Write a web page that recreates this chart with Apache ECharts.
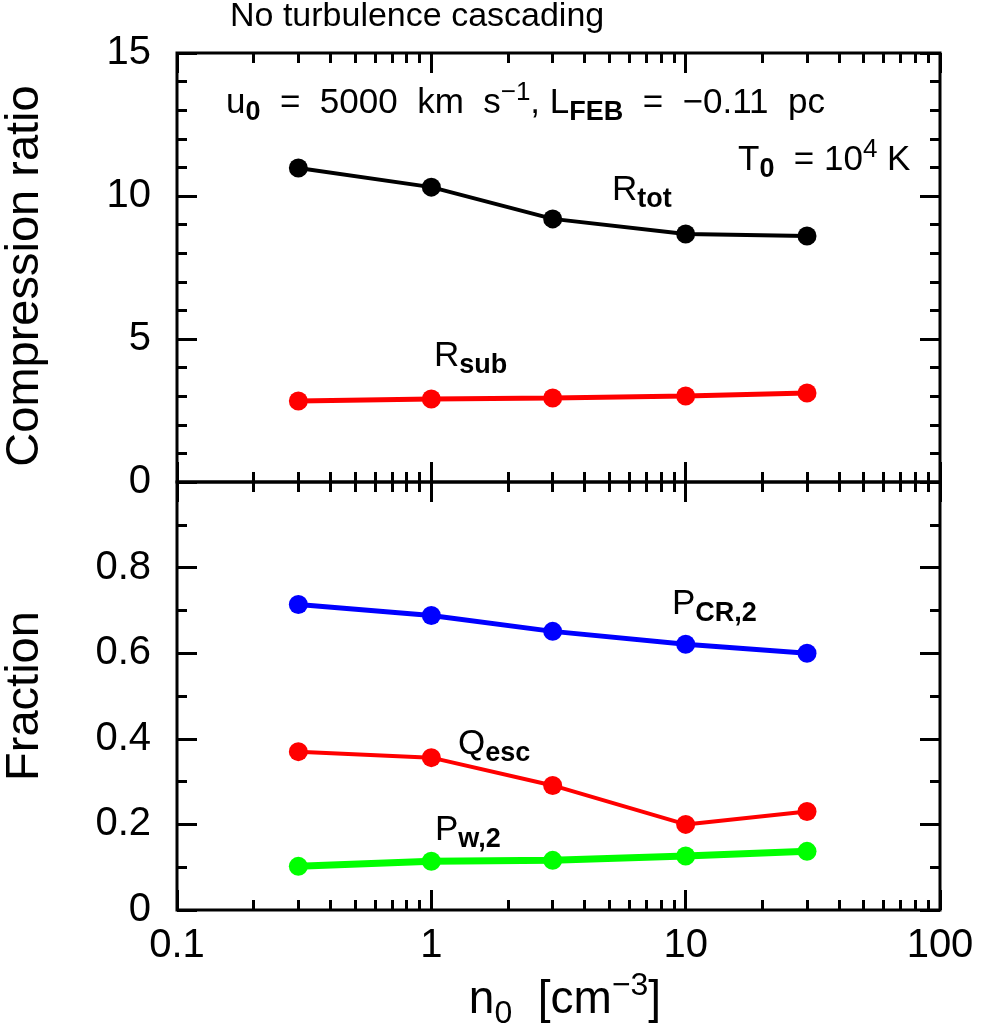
<!DOCTYPE html>
<html>
<head>
    <meta charset="utf-8">
    <title>Compression ratio and fractions vs n0</title>
    <script src="https://cdn.jsdelivr.net/npm/echarts@6/dist/echarts.min.js"></script>
    <style>
        html, body { margin: 0; padding: 0; background: #fff; }
        #chart { width: 981px; height: 1033px; }
    </style>
</head>
<body>
<div id="chart"></div>
<script type="text/javascript">
    // 数据
    var nVals = [0.3, 1, 3, 10, 30];
    var rTot = [10.98, 10.31, 9.20, 8.67, 8.60];
    var rSub = [2.83, 2.90, 2.94, 3.01, 3.11];
    var pCR2 = [0.714, 0.688, 0.651, 0.621, 0.600];
    var qEsc = [0.370, 0.356, 0.291, 0.200, 0.230];
    var pW2 = [0.102, 0.114, 0.116, 0.126, 0.137];

    var xMajorLabels = ['0.1', '1', '10', '100'];
    var xMajorLog = [-1, 0, 1, 2];

    var FONT = 'Liberation Sans';

    // minor ticks of the log axis, in log10 space
    var xMinorLog = [];
    for (var d = -1; d < 2; d++) {
        for (var k = 2; k <= 9; k++) xMinorLog.push(d + Math.log10(k));
    }

    function pairs(ys) {
        return nVals.map(function (x, i) { return [x, ys[i]]; });
    }

    // value axis in log10 space, used only to draw ticks (and labels)
    function tickAxis(grid, pos, values, len, labels) {
        return {
            type: 'value', gridIndex: grid, position: pos, min: -1, max: 2,
            axisLine: { show: false, onZero: false },
            splitLine: { show: false },
            axisTick: {
                show: true, inside: true, length: len, customValues: values,
                lineStyle: { color: '#000', width: 3 }
            },
            axisLabel: labels ? {
                show: true, customValues: values, margin: 16,
                color: '#000', fontSize: 40, fontFamily: FONT,
                formatter: function (v) { return xMajorLabels[Math.round(v) + 1]; }
            } : { show: false }
        };
    }

    function dataXAxis(grid) {
        return {
            type: 'log', logBase: 10, gridIndex: grid, min: 0.1, max: 100,
            axisLine: { show: false, onZero: false }, axisTick: { show: false },
            axisLabel: { show: false }, splitLine: { show: false }
        };
    }

    function yAxis(grid, pos, min, max, interval, minorSplit, showLabel, fmt) {
        return {
            type: 'value', gridIndex: grid, position: pos,
            min: min, max: max, interval: interval,
            axisLine: { show: false, onZero: false },
            splitLine: { show: false },
            axisTick: { show: true, inside: true, length: 20, lineStyle: { color: '#000', width: 3 } },
            minorTick: { show: true, splitNumber: minorSplit, length: 10, lineStyle: { color: '#000', width: 3 } },
            axisLabel: {
                show: showLabel, margin: 26, color: '#000', fontSize: 40, fontFamily: FONT,
                formatter: fmt
            }
        };
    }

    var rich = {
        m: { fontSize: 35, fontFamily: FONT, color: '#000', lineHeight: 46 },
        s: { fontSize: 27, fontFamily: FONT, fontWeight: 'bold', color: '#000', lineHeight: 27, verticalAlign: 'bottom' },
        p: { fontSize: 26, fontFamily: FONT, color: '#000', lineHeight: 26, verticalAlign: 'top' }
    };

    function note(x, y, text) {
        return {
            type: 'text', x: x, y: y,
            style: {
                text: text, rich: rich, fill: '#000',
                font: '35px ' + FONT,
                align: 'left', verticalAlign: 'middle'
            }
        };
    }

    var richBig = {
        m: { fontSize: 46, fontFamily: FONT, color: '#000', lineHeight: 60 },
        s: { fontSize: 32, fontFamily: FONT, color: '#000', lineHeight: 32, verticalAlign: 'bottom' },
        p: { fontSize: 32, fontFamily: FONT, color: '#000', lineHeight: 32, verticalAlign: 'top' }
    };

    var myChart = echarts.init(document.getElementById('chart'));

    var lineSeries = function (name, ys, color, width, xi, yi) {
        return {
            name: name, type: 'line', xAxisIndex: xi, yAxisIndex: yi,
            data: pairs(ys),
            symbol: 'circle', symbolSize: 19,
            lineStyle: { color: color, width: width },
            itemStyle: { color: color },
            animation: false
        };
    };

    myChart.setOption({
        animation: false,
        backgroundColor: '#fff',
        grid: [
            { left: 177, top: 53, width: 763, height: 429, show: true, borderColor: '#000', borderWidth: 3 },
            { left: 177, top: 482, width: 763, height: 428, show: true, borderColor: '#000', borderWidth: 3 }
        ],
        xAxis: [
            dataXAxis(0),
            dataXAxis(1),
            tickAxis(0, 'bottom', xMajorLog, 20, false),
            tickAxis(0, 'bottom', xMinorLog, 10, false),
            tickAxis(0, 'top', xMajorLog, 20, false),
            tickAxis(0, 'top', xMinorLog, 10, false),
            tickAxis(1, 'bottom', xMajorLog, 20, true),
            tickAxis(1, 'bottom', xMinorLog, 10, false),
            tickAxis(1, 'top', xMajorLog, 20, false),
            tickAxis(1, 'top', xMinorLog, 10, false)
        ],
        yAxis: [
            yAxis(0, 'left', 0, 15, 5, 5, true),
            yAxis(0, 'right', 0, 15, 5, 5, false),
            yAxis(1, 'left', 0, 1, 0.2, 2, true, function (v) { return v >= 1 ? '' : String(v); }),
            yAxis(1, 'right', 0, 1, 0.2, 2, false)
        ],
        series: [
            lineSeries('R_tot', rTot, '#000000', 4, 0, 0),
            lineSeries('R_sub', rSub, '#ff0000', 5, 0, 0),
            lineSeries('P_CR,2', pCR2, '#0000ff', 5, 1, 2),
            lineSeries('Q_esc', qEsc, '#ff0000', 4, 1, 2),
            lineSeries('P_w,2', pW2, '#00ff00', 7, 1, 2)
        ],
        graphic: [
            { type: 'text', x: 230, y: 17, style: { text: 'No turbulence cascading', font: '34px ' + FONT, fill: '#000', align: 'left', verticalAlign: 'middle' } },
            note(226, 103, '{m|u}{s|0}{m|  =  5000  km  s}{p|−1}{m|, L}{s|FEB}{m|  =  −0.11  pc}'),
            note(738, 160, '{m|T}{s|0}{m|  = 10}{p|4}{m| K}'),
            note(612, 190, '{m|R}{s|tot}'),
            note(434, 356, '{m|R}{s|sub}'),
            note(672, 604, '{m|P}{s|CR,2}'),
            note(458, 744, '{m|Q}{s|esc}'),
            note(435, 830, '{m|P}{s|w,2}'),
            { type: 'text', x: 25, y: 276, rotation: Math.PI / 2,
              style: { text: 'Compression ratio', font: '47px ' + FONT, fill: '#000', align: 'center', verticalAlign: 'middle' } },
            { type: 'text', x: 25, y: 696, rotation: Math.PI / 2,
              style: { text: 'Fraction', font: '47px ' + FONT, fill: '#000', align: 'center', verticalAlign: 'middle' } },
            { type: 'text', x: 565, y: 1000,
              style: { text: '{m|n}{s|0}{m|  [cm}{p|−3}{m|]}', rich: richBig, fill: '#000', align: 'center', verticalAlign: 'middle' } }
        ]
    });
</script>
</body>
</html>
